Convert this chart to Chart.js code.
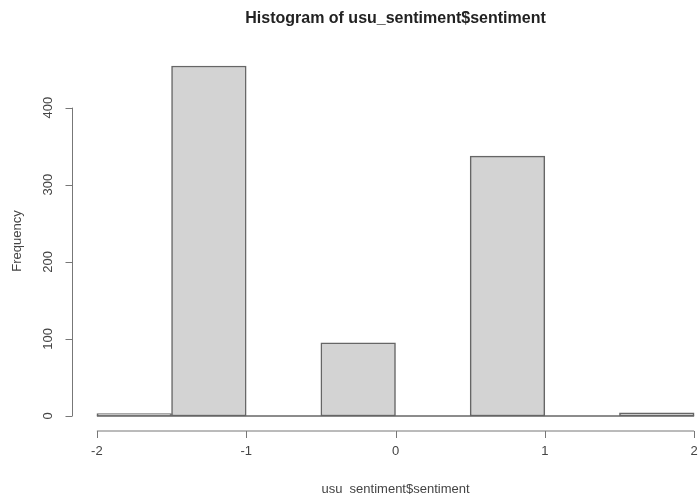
<!DOCTYPE html>
<html>
<head>
<meta charset="utf-8">
<script src="https://cdn.jsdelivr.net/npm/chart.js@4/dist/chart.umd.min.js"></script>
<style>
  html, body { margin: 0; padding: 0; background: #fff; overflow: hidden; }
  #wrap { width: 700px; height: 494px; overflow: hidden; }
  canvas { display: block; }
</style>
</head>
<body>
<div id="wrap"><canvas id="hist" width="720" height="494"></canvas></div>
<script>
// Histogram bins of sentiment scores
const binEdges = [-2, -1.5, -1, -0.5, 0, 0.5, 1, 1.5, 2];
const counts = [3, 454, 0, 95, 0, 337, 0, 4];
const xTicks = [-2, -1, 0, 1, 2];
const yTicks = [0, 100, 200, 300, 400];

const titleText = 'Histogram of usu_sentiment$sentiment';
const xLabel = 'usu_sentiment$sentiment';
const yLabel = 'Frequency';

const FONT = '"Liberation Sans", Arial, Helvetica, sans-serif';

// bar centres are the midpoints of each bin
const centres = counts.map((_, i) => (binEdges[i] + binEdges[i + 1]) / 2);

// R-style 4% range extension
const xMinE = binEdges[0], xMaxE = binEdges[binEdges.length - 1];
const xPad = (xMaxE - xMinE) * 0.04;
const yMaxV = Math.max(...counts);
const yPad = yMaxV * 0.04;

// axes, labels and title drawn in base-graphics style
const baseAxes = {
  id: 'baseAxes',
  afterDatasetsDraw(chart) {
    const { ctx, chartArea, scales: { x, y } } = chart;
    ctx.save();
    ctx.strokeStyle = '#666';
    ctx.lineWidth = 1.5;

    // bin bottoms along zero
    const y0 = y.getPixelForValue(0);
    ctx.beginPath();
    ctx.moveTo(x.getPixelForValue(xMinE), y0);
    ctx.lineTo(x.getPixelForValue(xMaxE), y0);
    ctx.stroke();

    ctx.lineWidth = 1;
    ctx.strokeStyle = '#777';
    // x axis
    const ax = chartArea.bottom + 1;
    ctx.beginPath();
    ctx.moveTo(x.getPixelForValue(xTicks[0]), ax);
    ctx.lineTo(x.getPixelForValue(xTicks[xTicks.length - 1]), ax);
    xTicks.forEach(t => {
      const px = Math.round(x.getPixelForValue(t)) + 0.5;
      ctx.moveTo(px, ax);
      ctx.lineTo(px, ax + 7);
    });
    ctx.stroke();

    ctx.fillStyle = '#444';
    ctx.font = '13px ' + FONT;
    ctx.textAlign = 'center';
    ctx.textBaseline = 'middle';
    xTicks.forEach(t => {
      ctx.fillText(String(t), x.getPixelForValue(t), 451);
    });

    // y axis
    const ay = chartArea.left - 0.5;
    ctx.beginPath();
    ctx.moveTo(ay, y.getPixelForValue(yTicks[0]));
    ctx.lineTo(ay, y.getPixelForValue(yTicks[yTicks.length - 1]));
    yTicks.forEach(t => {
      const py = Math.round(y.getPixelForValue(t)) + 0.5;
      ctx.moveTo(ay, py);
      ctx.lineTo(ay - 7, py);
    });
    ctx.stroke();

    yTicks.forEach(t => {
      ctx.save();
      ctx.translate(48, y.getPixelForValue(t));
      ctx.rotate(-Math.PI / 2);
      ctx.fillText(String(t), 0, 0);
      ctx.restore();
    });

    const cx = (chartArea.left + chartArea.right) / 2;
    const cy = (chartArea.top + chartArea.bottom) / 2;

    // axis titles
    ctx.fillText(xLabel, cx, 489);
    ctx.save();
    ctx.translate(17, cy);
    ctx.rotate(-Math.PI / 2);
    ctx.fillText(yLabel, 0, 0);
    ctx.restore();

    // main title
    ctx.fillStyle = '#222';
    ctx.font = 'bold 16px ' + FONT;
    ctx.fillText(titleText, cx, 19);
    ctx.restore();
  }
};

new Chart(document.getElementById('hist'), {
  type: 'bar',
  data: {
    datasets: [{
      data: centres.map((c, i) => ({ x: c, y: counts[i] })),
      backgroundColor: '#d3d3d3',
      borderColor: '#666',
      borderWidth: 1.5,
      borderSkipped: false,
      barPercentage: 1,
      categoryPercentage: 1
    }]
  },
  options: {
    responsive: false,
    animation: false,
    layout: { padding: { left: 73, right: 2, top: 52, bottom: 64 } },
    scales: {
      x: { type: 'linear', offset: false, min: xMinE - xPad, max: xMaxE + xPad, display: false },
      y: { min: -yPad, max: yMaxV + yPad, display: false }
    },
    plugins: {
      legend: { display: false },
      tooltip: { enabled: false },
      title: { display: false }
    }
  },
  plugins: [baseAxes]
});
</script>
</body>
</html>
